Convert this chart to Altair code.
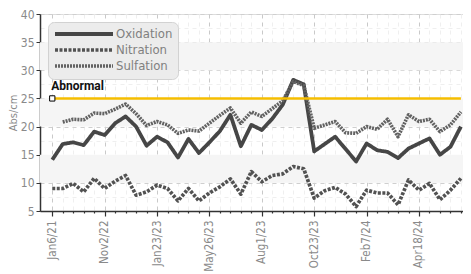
import json
import altair as alt
import pandas as pd

FONT = "DejaVu Sans Condensed, Roboto, sans-serif"
BOLD_FONT = "Roboto, Liberation Sans, sans-serif"

# ---- data ----
sample_index = list(range(40))
oxidation = [14.1, 16.9, 17.2, 16.7, 19.1, 18.5, 20.6, 21.8, 20.0, 16.6,
             18.2, 17.2, 14.5, 17.8, 15.3, 17.2, 19.2, 22.1, 16.5, 20.3,
             19.4, 21.4, 23.9, 28.3, 27.5, 15.6, 16.9, 18.2, 16.0, 13.8,
             17.0, 15.8, 15.5, 14.4, 16.1, 17.0, 17.9, 15.0, 16.4, 20.0]
nitration = [9.0, 9.0, 9.9, 8.4, 10.8, 9.0, 10.3, 11.3, 7.8, 8.4,
             9.6, 9.0, 6.8, 9.0, 6.8, 8.2, 9.3, 10.7, 8.0, 12.0,
             10.2, 11.3, 11.6, 12.9, 12.5, 7.3, 8.6, 9.2, 8.0, 5.8,
             8.7, 8.2, 8.2, 6.1, 10.5, 8.7, 9.9, 7.0, 8.7, 10.8]
sulfation = [None, 20.8, 21.3, 21.2, 22.4, 22.3, 23.1, 24.0, 22.3, 20.2,
             20.9, 20.3, 18.8, 19.4, 19.2, 20.6, 22.0, 23.3, 20.6, 22.6,
             21.8, 23.2, 24.6, 28.0, 27.3, 19.7, 20.3, 20.9, 18.9, 18.8,
             20.0, 19.5, 21.3, 18.2, 22.1, 20.9, 21.3, 19.1, 20.3, 22.6]
series_names = ["Oxidation", "Nitration", "Sulfation"]
tick_labels = ["Jan6/21", "Nov2/22", "Jan23/23", "May26/23",
               "Aug1/23", "Oct23/23", "Feb7/24", "Apr18/24"]
band_low = [10, 20, 30]
band_high = [15, 25, 35]
abnormal_value = [25]
abnormal_start = [0]
abnormal_end = [39]
abnormal_label = ["Abnormal"]

rows = []
for name, vals in zip(series_names, (oxidation, nitration, sulfation)):
    for i, v in zip(sample_index, vals):
        if v is not None:
            rows.append({"i": i, "series": name, "value": v})
df = pd.DataFrame(rows)
bands = pd.DataFrame({"lo": band_low, "hi": band_high})
limit = pd.DataFrame({"start": abnormal_start, "end": abnormal_end,
                      "value": abnormal_value, "label": abnormal_label})

label_expr = ("datum.value % 5 === 0 ? " + json.dumps(tick_labels)
              + "[datum.value / 5] : ''")

x_axis = alt.Axis(
    values=sample_index, labelExpr=label_expr, title=None,
    labelAngle=270, labelFont=FONT, labelFontSize=11.5, labelColor="#8a8a8a",
    labelPadding=4,
    domainColor="#333333", domainWidth=1.5, tickColor="#333333",
    tickSize={"condition": {"test": "datum.value % 5 === 0", "value": 5}, "value": 2},
    tickWidth=1.2,
    grid=True,
    gridColor={"condition": {"test": "datum.value % 5 === 0", "value": "#c9c9c9"}, "value": "#efefef"},
    gridDash=[4, 4], labelOverlap=False,
)
y_vals = [5 + 2.5 * k for k in range(15)]
y_axis = alt.Axis(
    values=y_vals, labelExpr="datum.value % 5 === 0 ? datum.label : ''",
    title="Abs/cm", titleFont=FONT, titleFontSize=11, titleColor="#8a8a8a",
    titleFontWeight="normal", titleX=-27, titleBaseline="middle",
    labelFont=FONT, labelFontSize=12, labelColor="#8a8a8a", labelPadding=2,
    domainColor="#333333", domainWidth=1.5, tickColor="#333333",
    tickSize={"condition": {"test": "datum.value % 5 === 0", "value": 4}, "value": 0},
    grid=True,
    gridColor={"condition": {"test": "datum.value % 5 === 0", "value": "#cfcfcf"}, "value": "#efefef"},
    gridDash=[4, 4],
)
x_scale = alt.Scale(domain=[-1.17, 39.2], nice=False, zero=False)
y_scale = alt.Scale(domain=[5, 40], nice=False, zero=False)

legend = alt.Legend(
    title=None, orient="none", legendX=8, legendY=8,
    symbolType="M-5.8,0H5.8", symbolSize=100, symbolOffset=24, labelOffset=25,
    fillColor="#ececec", strokeColor="#d2d2d2", cornerRadius=6, padding=5,
    labelFont=FONT, labelFontSize=13, labelColor="#808080", rowPadding=0,
)

band_layer = alt.Chart(bands).mark_rect(color="#f5f5f5").encode(
    y=alt.Y("lo:Q", scale=y_scale, axis=y_axis), y2="hi:Q")

lines = alt.Chart(df).mark_line(strokeCap="butt", strokeJoin="round").encode(
    x=alt.X("i:Q", scale=x_scale, axis=x_axis),
    y=alt.Y("value:Q", scale=y_scale, axis=y_axis),
    color=alt.Color("series:N", sort=series_names, legend=legend,
                    scale=alt.Scale(domain=series_names, range=["#464646", "#525252", "#626262"])),
    strokeDash=alt.StrokeDash("series:N", sort=series_names, legend=legend,
                              scale=alt.Scale(domain=series_names, range=[[1, 0], [3, 1.5], [2, 1]])),
    strokeWidth=alt.StrokeWidth("series:N", sort=series_names, legend=legend,
                                scale=alt.Scale(domain=series_names, range=[3.8, 3.6, 2.2])),
    order="i:Q",
)

rule = alt.Chart(limit).mark_rule(color="#f6be00", strokeWidth=2.5).encode(
    x=alt.X("start:Q", scale=x_scale, axis=x_axis), x2="end:Q",
    y=alt.Y("value:Q", scale=y_scale, axis=y_axis))
marker = alt.Chart(limit).mark_point(shape="square", size=28, filled=True, fill="white",
                                     stroke="black", strokeWidth=1, opacity=1).encode(
    x=alt.X("start:Q", scale=x_scale, axis=x_axis),
    y=alt.Y("value:Q", scale=y_scale, axis=y_axis))
label = alt.Chart(limit).mark_text(align="left", baseline="bottom", dx=-1, dy=-5,
                                   font=BOLD_FONT, fontSize=12, fontWeight="bold",
                                   color="#111111").encode(
    x=alt.X("start:Q", scale=x_scale, axis=x_axis),
    y=alt.Y("value:Q", scale=y_scale, axis=y_axis),
    text="label:N")

chart = alt.layer(band_layer, lines, rule, marker, label).properties(
    width=423, height=197,
    autosize=alt.AutoSizeParams(type="none"),
    padding={"left": 32, "top": 6, "right": 0, "bottom": 60},
).configure_view(stroke=None).configure(background="white")

chart.save("out.html", embed_options={"renderer": "svg", "actions": False})
